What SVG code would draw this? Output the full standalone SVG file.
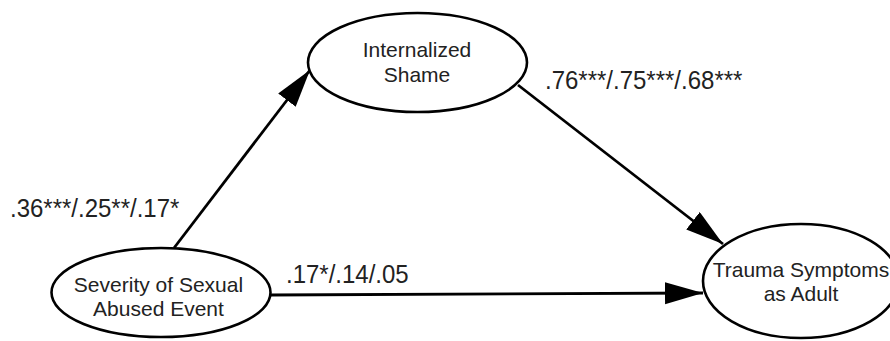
<svg xmlns="http://www.w3.org/2000/svg" width="890" height="341" viewBox="0 0 890 341">
<style>
.node ellipse{fill:#fff;stroke:#000;stroke-width:2.6}
.node text{font-family:"Liberation Sans",Arial,sans-serif;font-size:21px;fill:#222;text-anchor:middle}
.edge line{stroke:#000;stroke-width:2.8;fill:none}
.lbl{font-family:"Liberation Sans",Arial,sans-serif;font-size:24px;fill:#222}
</style>
<defs>
<marker id="arr" markerUnits="userSpaceOnUse" markerWidth="40" markerHeight="24" refX="38" refY="11" orient="auto">
<path d="M0,0 L38,11 L0,22 z" fill="#000"/>
</marker>
</defs>
<rect width="890" height="341" fill="#fff"/>
<g id="connectors" class="edge">
<line x1="174" y1="248" x2="310" y2="70" marker-end="url(#arr)"/>
<line x1="518" y1="85" x2="723" y2="244" marker-end="url(#arr)"/>
<line x1="270" y1="295" x2="703" y2="293" marker-end="url(#arr)"/>
</g>
<g id="internalized-shame" class="node">
<ellipse cx="417.5" cy="62.5" rx="109.5" ry="49.5"/>
<text x="417" y="57">Internalized</text>
<text x="417" y="82">Shame</text>
</g>
<g id="severity" class="node">
<ellipse cx="161" cy="292.5" rx="109.5" ry="44.5"/>
<text x="158.5" y="292">Severity of Sexual</text>
<text x="158.5" y="316">Abused Event</text>
</g>
<g id="trauma" class="node">
<ellipse cx="801" cy="281" rx="98" ry="57"/>
<text x="801" y="277">Trauma Symptoms</text>
<text x="801" y="301">as Adult</text>
</g>
<g id="labels">
<text class="lbl" transform="translate(10,217) scale(1,1.06)">.36***/.25**/.17*</text>
<text class="lbl" transform="translate(545,89) scale(1,1.06)">.76***/.75***/.68***</text>
<text class="lbl" transform="translate(286,283) scale(1,1.06)">.17*/.14/.05</text>
</g>
</svg>
